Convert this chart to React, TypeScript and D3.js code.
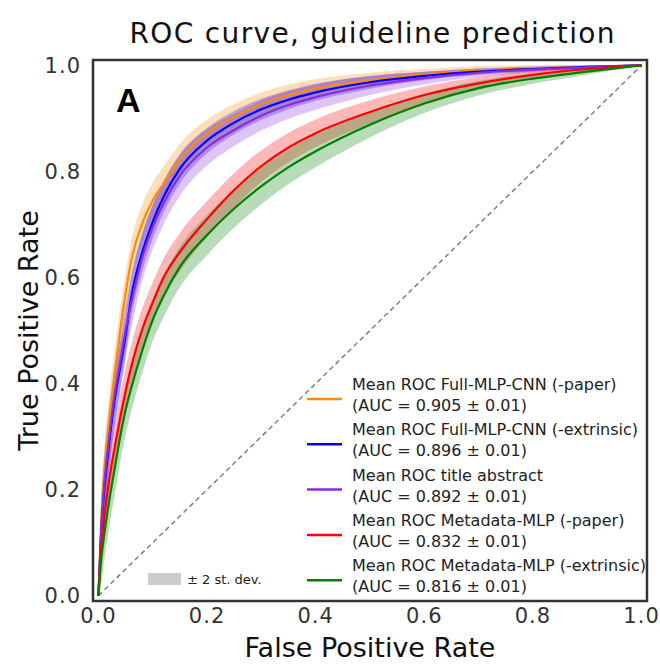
import React from "react";
import * as d3 from "d3";

// false positive rate grid shared by all curves
const fpr = [0, 0.005, 0.01, 0.02, 0.03, 0.04, 0.05, 0.06, 0.08, 0.1, 0.12, 0.15, 0.2, 0.25, 0.3, 0.35, 0.4, 0.5, 0.6, 0.7, 0.8, 0.9, 1.0];

// mean TPR per model
const tprPaperCnn = [0, 0.14, 0.22, 0.33, 0.42, 0.5, 0.57, 0.63, 0.7, 0.745, 0.777, 0.822, 0.872, 0.903, 0.927, 0.944, 0.956, 0.972, 0.983, 0.99, 0.994, 0.997, 1];
const tprExtrCnn = [0, 0.12, 0.19, 0.29, 0.37, 0.43, 0.49, 0.56, 0.645, 0.705, 0.752, 0.805, 0.858, 0.892, 0.917, 0.935, 0.949, 0.968, 0.98, 0.988, 0.993, 0.997, 1];
const tprTitleAbs = [0, 0.12, 0.2, 0.3, 0.38, 0.44, 0.5, 0.55, 0.635, 0.695, 0.74, 0.792, 0.845, 0.878, 0.905, 0.925, 0.94, 0.962, 0.976, 0.986, 0.992, 0.996, 1];
const tprPaperMeta = [0, 0.09, 0.14, 0.22, 0.28, 0.335, 0.385, 0.43, 0.5, 0.553, 0.6, 0.648, 0.71, 0.765, 0.81, 0.845, 0.872, 0.912, 0.944, 0.966, 0.982, 0.993, 1];
const tprExtrMeta = [0, 0.07, 0.11, 0.18, 0.24, 0.3, 0.35, 0.39, 0.46, 0.52, 0.565, 0.62, 0.68, 0.73, 0.772, 0.808, 0.838, 0.888, 0.928, 0.957, 0.975, 0.988, 1];

// standard deviation of TPR per model (band = mean ± 2 sd)
const sdPaperCnn = [0, 0.025, 0.026, 0.026, 0.024, 0.022, 0.02, 0.019, 0.018, 0.017, 0.016, 0.015, 0.013, 0.012, 0.011, 0.01, 0.009, 0.007, 0.005, 0.004, 0.003, 0.002, 0];
const sdExtrCnn = [0, 0.025, 0.026, 0.026, 0.024, 0.022, 0.02, 0.019, 0.018, 0.016, 0.015, 0.014, 0.012, 0.011, 0.01, 0.009, 0.008, 0.006, 0.004, 0.003, 0.002, 0.001, 0];
const sdTitleAbs = [0, 0.026, 0.028, 0.028, 0.027, 0.026, 0.025, 0.024, 0.022, 0.021, 0.02, 0.019, 0.017, 0.015, 0.014, 0.013, 0.012, 0.009, 0.006, 0.004, 0.003, 0.002, 0];
const sdPaperMeta = [0, 0.025, 0.025, 0.025, 0.024, 0.023, 0.022, 0.021, 0.02, 0.019, 0.018, 0.018, 0.017, 0.016, 0.015, 0.014, 0.013, 0.011, 0.008, 0.006, 0.004, 0.002, 0];
const sdExtrMeta = [0, 0.025, 0.025, 0.025, 0.025, 0.024, 0.023, 0.022, 0.021, 0.02, 0.02, 0.019, 0.019, 0.018, 0.017, 0.016, 0.015, 0.012, 0.009, 0.007, 0.005, 0.003, 0];

const labels = [
  ["Mean ROC Full-MLP-CNN (-paper)", "(AUC = 0.905 ± 0.01)"],
  ["Mean ROC Full-MLP-CNN (-extrinsic)", "(AUC = 0.896 ± 0.01)"],
  ["Mean ROC title abstract", "(AUC = 0.892 ± 0.01)"],
  ["Mean ROC Metadata-MLP (-paper)", "(AUC = 0.832 ± 0.01)"],
  ["Mean ROC Metadata-MLP (-extrinsic)", "(AUC = 0.816 ± 0.01)"],
];
const colors = ["#ff8c00", "#0000ff", "#8a2be2", "#ff0000", "#008000"];
const means = [tprPaperCnn, tprExtrCnn, tprTitleAbs, tprPaperMeta, tprExtrMeta];
const sds = [sdPaperCnn, sdExtrCnn, sdTitleAbs, sdPaperMeta, sdExtrMeta];
const ticks = [0, 0.2, 0.4, 0.6, 0.8, 1.0];

const FONT = "'DejaVu Sans', sans-serif";

export default function App() {
  const width = 660;
  const height = 667;
  const frame = { left: 93, right: 647, top: 60, bottom: 601 };

  const x = d3.scaleLinear().domain([-0.01, 1.01]).range([frame.left, frame.right]);
  const y = d3.scaleLinear().domain([-0.01, 1.01]).range([frame.bottom, frame.top]);

  const line = d3
    .line<number>()
    .x((_, i) => x(fpr[i]))
    .y((d) => y(d))
    .curve(d3.curveMonotoneX);

  return (
    <svg width={width} height={height} style={{ position: "absolute", left: 0, top: 0 }} fontFamily={FONT}>
      <defs>
        <clipPath id="plot">
          <rect x={frame.left} y={frame.top} width={frame.right - frame.left} height={frame.bottom - frame.top} />
        </clipPath>
      </defs>
      <rect width={width} height={height} fill="#fff" />
      <g clipPath="url(#plot)">
        {means.map((m, k) => {
          const area = d3
            .area<number>()
            .x((_, i) => x(fpr[i]))
            .y0((d, i) => y(Math.max(0, d - 2 * sds[k][i])))
            .y1((d, i) => y(Math.min(1, d + 2 * sds[k][i])))
            .curve(d3.curveMonotoneX);
          return <path key={"a" + k} d={area(m) ?? ""} fill={colors[k]} fillOpacity={0.28} />;
        })}
        <line x1={x(0)} y1={y(0)} x2={x(1)} y2={y(1)} stroke="#808080" strokeWidth={1.5} strokeDasharray="5,3.5" />
        {means.map((m, k) => (
          <path key={"l" + k} d={line(m) ?? ""} fill="none" stroke={colors[k]} strokeWidth={2.2} />
        ))}
      </g>
      <rect
        x={frame.left}
        y={frame.top}
        width={frame.right - frame.left}
        height={frame.bottom - frame.top}
        fill="none"
        stroke="#333"
        strokeWidth={2.5}
      />
      {ticks.map((t) => (
        <text key={"x" + t} x={x(t)} y={623} textAnchor="middle" fontSize={21} fill="#333" style={{ letterSpacing: "1px" }}>
          {t.toFixed(1)}
        </text>
      ))}
      {ticks.map((t) => (
        <text key={"y" + t} x={81} y={y(t)} dy="0.36em" textAnchor="end" fontSize={21} fill="#333" style={{ letterSpacing: "1px" }}>
          {t.toFixed(1)}
        </text>
      ))}
      <text x={372} y={43} textAnchor="middle" fontSize={28} fill="#111" textLength={485} lengthAdjust="spacing">
        ROC curve, guideline prediction
      </text>
      <text x={370} y={657} textAnchor="middle" fontSize={27} fill="#111">
        False Positive Rate
      </text>
      <text transform={`translate(38,${(frame.top + frame.bottom) / 2}) rotate(-90)`} textAnchor="middle" fontSize={27} fill="#111">
        True Positive Rate
      </text>
      <text x={116} y={112} fontSize={34} fontWeight="bold" fontFamily="'Liberation Sans', Arial, sans-serif" fill="#000">
        A
      </text>
      <rect x={148} y={573} width={33} height={12} fill="#cccccc" />
      <text x={187} y={584} fontSize={13} fill="#222">
        ± 2 st. dev.
      </text>
      {labels.map((lab, k) => {
        const yy = 399 + k * 45.3;
        return (
          <g key={"lg" + k}>
            <line x1={307} x2={342} y1={yy} y2={yy} stroke={colors[k]} strokeWidth={2.5} />
            <text x={352} y={yy - 9} fontSize={16} fill="#222">
              {lab[0]}
            </text>
            <text x={352} y={yy + 12} fontSize={16} fill="#222">
              {lab[1]}
            </text>
          </g>
        );
      })}
    </svg>
  );
}
